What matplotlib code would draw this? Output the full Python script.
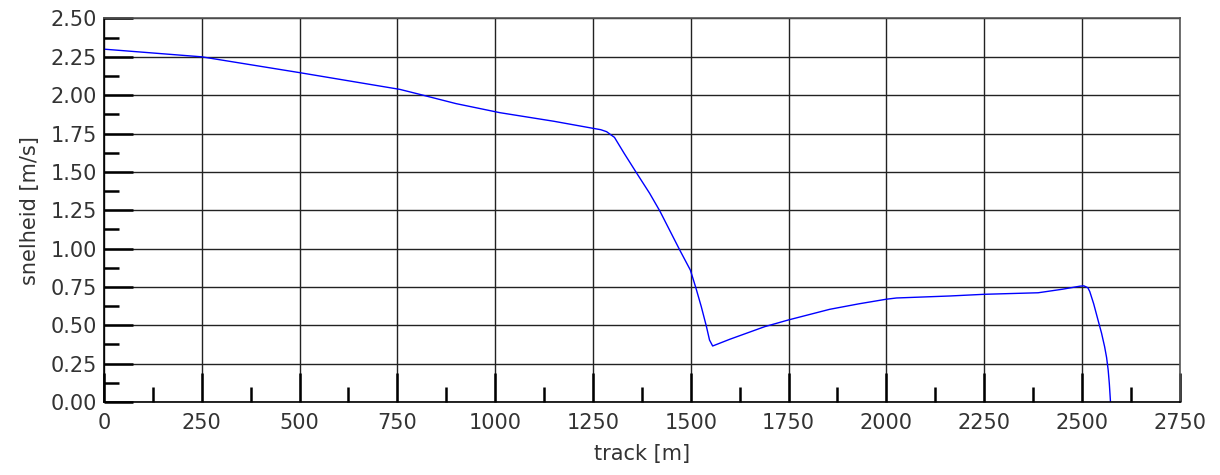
import numpy as np
import matplotlib
matplotlib.use('Agg')
import matplotlib.pyplot as plt
from matplotlib.ticker import MultipleLocator, FormatStrFormatter

# track position [m] and speed [m/s]
track = [0, 250, 500, 756, 800, 900, 1012, 1150, 1250, 1270, 1285, 1293, 1305,
         1330, 1361, 1395, 1421, 1448, 1472, 1499, 1513, 1527, 1540, 1548, 1556,
         1600, 1689, 1750, 1855, 1930, 2000, 2026, 2162, 2250, 2388, 2450,
         2495, 2505, 2515, 2520, 2530, 2541, 2550, 2558, 2563, 2567, 2570, 2573]
snelheid = [2.30, 2.25, 2.147, 2.038, 2.01, 1.945, 1.886, 1.83, 1.784, 1.775,
            1.762, 1.747, 1.725, 1.62, 1.495, 1.36, 1.245, 1.11, 0.990, 0.860,
            0.745, 0.621, 0.493, 0.404, 0.365, 0.409, 0.491, 0.535, 0.604, 0.64,
            0.670, 0.678, 0.691, 0.702, 0.712, 0.735, 0.755, 0.757, 0.745, 0.72,
            0.64, 0.535, 0.45, 0.36, 0.29, 0.21, 0.12, 0.0]

xlabel = 'track [m]'
ylabel = 'snelheid [m/s]'

plt.rcParams['font.family'] = ['DejaVu Sans']

fig = plt.figure(figsize=(12.2, 4.75), dpi=100)
ax = fig.add_axes([0.0852, 0.1537, 0.8818, 0.8074])

ax.plot(track, snelheid, color='#0000ff', linewidth=1.0)

ax.set_xlim(0, 2750)
ax.set_ylim(0, 2.5)
ax.xaxis.set_major_locator(MultipleLocator(250))
ax.xaxis.set_minor_locator(MultipleLocator(125))
ax.yaxis.set_major_locator(MultipleLocator(0.25))
ax.yaxis.set_minor_locator(MultipleLocator(0.125))
ax.yaxis.set_major_formatter(FormatStrFormatter('%.2f'))

ax.grid(True, which='major', color='#222222', linewidth=1.0)
ax.set_axisbelow(True)

ax.tick_params(which='major', direction='in', length=21, width=1.8, color='black',
               labelsize=15, labelcolor='#333333', top=False, right=False)
ax.tick_params(which='minor', direction='in', length=11, width=1.8, color='black',
               top=False, right=False)
ax.tick_params(axis='x', which='major', pad=8)
ax.tick_params(axis='y', which='major', pad=5)

for s in ax.spines.values():
    s.set_color('#555555')
    s.set_linewidth(1.2)
ax.spines['bottom'].set_color('black')
ax.spines['left'].set_color('black')

ax.set_xlabel(xlabel, fontsize=15, color='#333333', labelpad=8)
ax.set_ylabel(ylabel, fontsize=15, color='#333333', labelpad=8)

fig.savefig('out.png', dpi=100)
